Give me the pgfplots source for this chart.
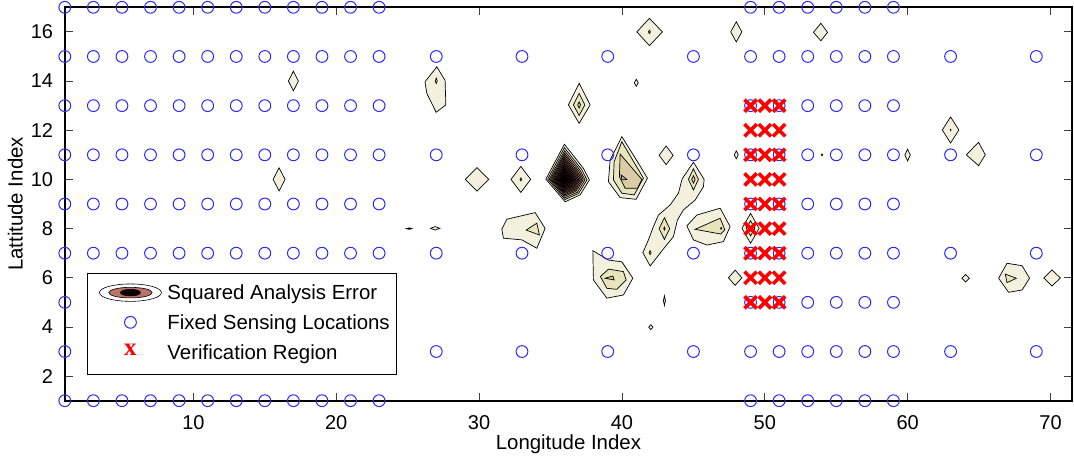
\documentclass[border=0pt]{standalone}
\usepackage{pgfplots}
\pgfplotsset{compat=1.18}
\usepackage{fontspec}
\setmainfont{Liberation Sans}
\newfontfamily\serifb{Liberation Serif}
\definecolor{c1}{RGB}{242,241,221}
\definecolor{c2}{RGB}{231,229,187}
\definecolor{c3}{RGB}{219,203,166}
\definecolor{c4}{RGB}{208,182,158}
\definecolor{p4}{RGB}{200,168,150}
\definecolor{p5}{RGB}{182,132,122}
\definecolor{p6}{RGB}{160,106,100}
\definecolor{p7}{RGB}{136,86,82}
\definecolor{p8}{RGB}{112,67,64}
\definecolor{p9}{RGB}{92,52,50}
\definecolor{p10}{RGB}{72,38,36}
\definecolor{p11}{RGB}{54,26,24}
\definecolor{p12}{RGB}{38,16,14}
\definecolor{p13}{RGB}{25,8,7}
\definecolor{p14}{RGB}{12,2,2}
\definecolor{legrose}{RGB}{185,115,105}
\definecolor{circblue}{RGB}{40,40,255}
\begin{document}
\begin{tikzpicture}[x=1pt,y=1pt]
\useasboundingbox (0,0) rectangle (1074,458);
\begin{axis}[
  at={(64.8pt,57.3pt)}, anchor=south west,
  scale only axis, width=1007.2pt, height=393.4pt,
  xmin=1, xmax=71.5, ymin=1, ymax=17,
  clip=false,
  xtick={10,20,30,40,50,60,70}, ytick={2,4,6,8,10,12,14,16},
  tick align=inside, major tick length=8pt,
  xtick pos=both, ytick pos=both, xticklabel pos=lower, yticklabel pos=left,
  axis line style={line width=1.6pt},
  tick style={line width=0.8pt, black!75},
  /pgf/number format/assume math mode=true,
  tick label style={font=\fontsize{20}{24}\selectfont},
  xticklabel style={anchor=base, inner sep=0pt, yshift=-28.8pt},
  yticklabel style={anchor=east, inner sep=0pt, xshift=-11.5pt},
  xlabel={Longitude Index}, ylabel={Lattitude Index},
  label style={font=\fontsize{20.4}{24}\selectfont},
  xlabel style={at={(axis description cs:0.5,-0.1243)}, anchor=base, inner sep=0pt},
  ylabel style={at={(axis description cs:-0.0415,0.5)}, anchor=south, inner sep=0pt},
  legend style={at={(axis description cs:0.02174,0.3254)}, anchor=north west,
    draw=black, line width=0.9pt, fill=white,
    inner xsep=6.4pt, inner ysep=10.5pt, row sep=10.4pt, column sep=5.7pt,
    font=\fontsize{20.4}{24}\selectfont,
    nodes={inner sep=0pt, text height=15pt, text depth=4.3pt},
    cells={anchor=west}},
  cont/.style={draw=black, line width=0.7pt, mark=none, forget plot},
]
% ---------------- contours ----------------
\addplot[cont, fill=c1] coordinates {(16.65,14)(17,14.4)(17.35,14)(17,13.6)} -- cycle;
\addplot[cont, fill=c1] coordinates {(15.58,10)(16,10.47)(16.42,10)(16,9.53)} -- cycle;
\addplot[cont, fill=c1] coordinates {(26.21,13.97)(27.04,14.58)(27.62,14.02)(27.67,13.03)(26.99,12.73)(26.34,13.50)} -- cycle;
\addplot[cont, fill=c2] coordinates {(26.93,14.0)(27.0,14.12)(27.07,14.0)(27.0,13.9)} -- cycle;
\addplot[cont, fill=c1] coordinates {(29.03,10)(29.85,10.48)(30.67,10)(29.85,9.52)} -- cycle;
\addplot[cont, fill=c1] coordinates {(32.23,10)(32.92,10.53)(33.61,10)(32.92,9.47)} -- cycle;
\addplot[cont, fill=c2] coordinates {(32.86,10)(32.92,10.06)(32.98,10)(32.92,9.94)} -- cycle;
% big peak
\addplot[cont, fill=c1] coordinates {(34.67,10.01)(35.97,11.43)(37.30,10.45)(37.72,9.98)(37.07,9.37)(36.02,9.09)} -- cycle;
\addplot[cont, fill=c2] coordinates {(34.80,10.01)(35.97,11.29)(37.17,10.41)(37.55,9.98)(36.96,9.43)(36.02,9.18)} -- cycle;
\addplot[cont, fill=c3] coordinates {(34.91,10.01)(35.98,11.17)(37.07,10.37)(37.41,9.98)(36.88,9.48)(36.02,9.25)} -- cycle;
\addplot[cont, fill=p4] coordinates {(35.00,10.01)(35.98,11.07)(36.98,10.34)(37.29,9.99)(36.80,9.53)(36.02,9.32)} -- cycle;
\addplot[cont, fill=p5] coordinates {(35.08,10.01)(35.98,10.99)(36.90,10.31)(37.19,9.99)(36.74,9.57)(36.01,9.37)} -- cycle;
\addplot[cont, fill=p6] coordinates {(35.16,10.01)(35.98,10.90)(36.82,10.28)(37.08,9.99)(36.67,9.60)(36.01,9.43)} -- cycle;
\addplot[cont, fill=p7] coordinates {(35.24,10.01)(35.98,10.82)(36.74,10.26)(36.98,9.99)(36.61,9.64)(36.01,9.48)} -- cycle;
\addplot[cont, fill=p8] coordinates {(35.32,10.0)(35.99,10.73)(36.66,10.23)(36.88,9.99)(36.55,9.68)(36.01,9.54)} -- cycle;
\addplot[cont, fill=p9] coordinates {(35.40,10.0)(35.99,10.64)(36.59,10.20)(36.77,9.99)(36.48,9.72)(36.01,9.59)} -- cycle;
\addplot[cont, fill=p10] coordinates {(35.48,10.0)(35.99,10.56)(36.51,10.18)(36.67,9.99)(36.42,9.75)(36.01,9.65)} -- cycle;
\addplot[cont, fill=p11] coordinates {(35.56,10.0)(35.99,10.47)(36.43,10.15)(36.57,9.99)(36.35,9.79)(36.01,9.70)} -- cycle;
\addplot[cont, fill=p12] coordinates {(35.64,10.0)(35.99,10.39)(36.35,10.12)(36.46,9.99)(36.29,9.83)(36.01,9.75)} -- cycle;
\addplot[cont, fill=p13] coordinates {(35.73,10.0)(35.99,10.29)(36.26,10.09)(36.34,10.0)(36.21,9.87)(36.0,9.82)} -- cycle;
\addplot[cont, fill=p14] coordinates {(35.83,10.0)(36.0,10.17)(36.16,10.05)(36.21,10.0)(36.13,9.92)(36.0,9.89)} -- cycle;
% peak at 40,10
\addplot[cont, fill=c1] coordinates {(39.99,11.74)(41.15,10.66)(41.78,10.05)(40.99,9.19)(39.87,9.26)(39.05,9.91)(39.17,10.79)} -- cycle;
\addplot[cont, fill=c2] coordinates {(39.99,11.53)(41.50,10.05)(40.85,9.37)(39.99,9.44)(39.40,9.98)(39.45,10.72)} -- cycle;
\addplot[cont, fill=c3] coordinates {(39.87,11.03)(41.39,10.0)(41.08,9.64)(40.22,9.64)(39.82,10.11)} -- cycle;
\addplot[cont, fill=c4] coordinates {(39.94,10.18)(40.34,10.0)(39.99,9.98)} -- cycle;
% 37,13
\addplot[cont, fill=c1] coordinates {(36.25,13.03)(37.0,13.91)(37.77,13.03)(37.0,12.28)} -- cycle;
\addplot[cont, fill=c2] coordinates {(36.6,13.03)(37.0,13.5)(37.4,13.03)(37.0,12.6)} -- cycle;
\addplot[cont, fill=c3] coordinates {(36.9,13.03)(37.0,13.15)(37.1,13.03)(37.0,12.9)} -- cycle;
% small ones top
\addplot[cont, fill=c1] coordinates {(40.86,13.93)(41,14.07)(41.14,13.93)(41,13.79)} -- cycle;
\addplot[cont, fill=c1] coordinates {(41.04,16.0)(41.92,16.55)(42.83,16.0)(41.92,15.44)} -- cycle;
\addplot[cont, fill=c2] coordinates {(41.85,16)(41.92,16.07)(41.99,16)(41.92,15.93)} -- cycle;
\addplot[cont, fill=c1] coordinates {(47.61,16)(48,16.41)(48.39,16)(48,15.59)} -- cycle;
\addplot[cont, fill=c1] coordinates {(53.40,15.98)(53.92,16.35)(54.39,15.98)(53.92,15.64)} -- cycle;
\addplot[cont, fill=c1] coordinates {(42.6,10.98)(43.09,11.36)(43.58,10.98)(43.09,10.6)} -- cycle;
\addplot[cont, fill=c1] coordinates {(47.86,11)(48,11.16)(48.14,11)(48,10.84)} -- cycle;
\addplot[cont, fill=c1] coordinates {(53.95,11)(54,11.04)(54.05,11)(54,10.96)} -- cycle;
% strand 41-46, 6.5-10.7
\addplot[cont, fill=c1] coordinates {(45.0,10.7)(45.75,10.0)(45.7,9.7)(45.12,9.16)(44.3,8.76)(43.88,8.35)(43.6,7.67)(43.02,7.26)(41.97,6.48)(41.46,7.02)(41.85,7.54)(42.2,8.08)(42.55,8.55)(43.37,8.96)(43.95,9.44)(44.19,9.98)(44.3,10.1)} -- cycle;
\addplot[cont, fill=c2] coordinates {(44.65,10)(45,10.43)(45.35,10)(45,9.57)} -- cycle;
\addplot[cont, fill=c3] coordinates {(44.88,10)(45,10.15)(45.12,10)(45,9.85)} -- cycle;
\addplot[cont, fill=c2] coordinates {(42.6,8.0)(42.97,8.44)(43.34,8.0)(42.97,7.56)} -- cycle;
\addplot[cont, fill=c3] coordinates {(42.92,8)(42.97,8.06)(43.02,8)(42.97,7.94)} -- cycle;
\addplot[cont, fill=c2] coordinates {(41.9,7.02)(41.97,7.1)(42.04,7.02)(41.97,6.94)} -- cycle;
% 46-47, 8
\addplot[cont, fill=c1] coordinates {(44.54,8.11)(45.24,8.55)(46.87,8.83)(47.57,8.08)(47.1,7.47)(45.94,7.33)(45.0,7.54)} -- cycle;
\addplot[cont, fill=c2] coordinates {(45.12,7.97)(46.87,8.42)(47.2,7.95)(46.9,7.78)} -- cycle;
\addplot[cont, fill=c3] coordinates {(46.9,8.01)(46.94,8.05)(46.98,8.01)(46.94,7.97)} -- cycle;
% 49,8
\addplot[cont, fill=c1] coordinates {(48.4,8.01)(49,8.62)(49.6,8.01)(49,7.4)} -- cycle;
\addplot[cont, fill=c2] coordinates {(48.7,8.01)(49,8.32)(49.3,8.01)(49,7.7)} -- cycle;
% 48,6 / 43,5 / 42,4
\addplot[cont, fill=c1] coordinates {(47.45,6)(47.92,6.31)(48.39,6)(47.92,5.69)} -- cycle;
\addplot[cont, fill=c1] coordinates {(42.90,5.07)(42.97,5.27)(43.04,5.07)(42.97,4.87)} -- cycle;
\addplot[cont, fill=c1] coordinates {(41.87,3.99)(42.02,4.09)(42.17,3.99)(42.02,3.89)} -- cycle;
% 39,6
\addplot[cont, fill=c1] coordinates {(37.96,7.1)(39.06,6.72)(39.99,6.65)(40.76,5.98)(40.1,5.30)(38.94,5.17)(38.0,5.91)} -- cycle;
\addplot[cont, fill=c2] coordinates {(38.49,6.05)(39.06,6.35)(40.1,6.25)(40.29,5.91)(39.64,5.53)(38.94,5.57)} -- cycle;
\addplot[cont, fill=c3] coordinates {(38.82,5.98)(39.36,6.07)(39.45,5.91)} -- cycle;
% 33-34, 8
\addplot[cont, fill=c1] coordinates {(31.59,7.98)(31.94,8.38)(33.92,8.65)(34.62,8.01)(34.04,7.2)(33.0,7.54)(31.7,7.61)} -- cycle;
\addplot[cont, fill=c2] coordinates {(33.29,7.94)(34.04,8.22)(34.22,7.74)} -- cycle;
% 25,8 and 27,8
\addplot[cont, fill=black] coordinates {(24.9,8)(25.1,8.03)(25.3,8)(25.1,7.97)} -- cycle;
\addplot[cont, fill=c1] coordinates {(26.6,8.01)(26.92,8.08)(27.25,8.01)(26.92,7.94)} -- cycle;
% right side
\addplot[cont, fill=c1] coordinates {(59.8,10.99)(59.99,11.23)(60.18,10.99)(59.99,10.75)} -- cycle;
\addplot[cont, fill=c1] coordinates {(62.42,12.01)(63.0,12.54)(63.58,12.01)(63.0,11.48)} -- cycle;
\addplot[cont, fill=c2] coordinates {(62.97,12.01)(63.0,12.04)(63.03,12.01)(63.0,11.98)} -- cycle;
\addplot[cont, fill=c1] coordinates {(64.1,11.0)(64.96,11.51)(65.43,11.0)(64.96,10.56)} -- cycle;
\addplot[cont, fill=c1] coordinates {(63.79,5.98)(64.05,6.13)(64.31,5.98)(64.05,5.83)} -- cycle;
\addplot[cont, fill=c1] coordinates {(66.36,5.98)(66.95,6.59)(68.0,6.49)(68.53,5.98)(68.0,5.5)(67.06,5.41)} -- cycle;
\addplot[cont, fill=c2] coordinates {(66.83,6.15)(67.6,5.98)(66.95,5.8)} -- cycle;
\addplot[cont, fill=c1] coordinates {(69.52,5.99)(70.1,6.32)(70.68,5.99)(70.1,5.66)} -- cycle;
% ---------------- fixed sensing locations ----------------
\addplot[only marks, mark=o, mark size=5.9pt, color=circblue, mark options={line width=1pt}, forget plot] coordinates {
(1,1)(3,1)(5,1)(7,1)(9,1)(11,1)(13,1)(15,1)(17,1)(19,1)(21,1)(23,1)(49,1)(51,1)(53,1)(55,1)(57,1)(59,1)
(1,3)(3,3)(5,3)(7,3)(9,3)(11,3)(13,3)(15,3)(17,3)(19,3)(21,3)(23,3)(27,3)(33,3)(39,3)(45,3)(49,3)(51,3)(53,3)(55,3)(57,3)(59,3)(63,3)(69,3)
(1,5)(3,5)(5,5)(7,5)(9,5)(11,5)(13,5)(15,5)(17,5)(19,5)(21,5)(23,5)(49,5)(51,5)(53,5)(55,5)(57,5)(59,5)
(1,7)(3,7)(5,7)(7,7)(9,7)(11,7)(13,7)(15,7)(17,7)(19,7)(21,7)(23,7)(27,7)(33,7)(39,7)(45,7)(49,7)(51,7)(53,7)(55,7)(57,7)(59,7)(63,7)(69,7)
(1,9)(3,9)(5,9)(7,9)(9,9)(11,9)(13,9)(15,9)(17,9)(19,9)(21,9)(23,9)(49,9)(51,9)(53,9)(55,9)(57,9)(59,9)
(1,11)(3,11)(5,11)(7,11)(9,11)(11,11)(13,11)(15,11)(17,11)(19,11)(21,11)(23,11)(27,11)(33,11)(39,11)(45,11)(49,11)(51,11)(53,11)(55,11)(57,11)(59,11)(63,11)(69,11)
(1,13)(3,13)(5,13)(7,13)(9,13)(11,13)(13,13)(15,13)(17,13)(19,13)(21,13)(23,13)(49,13)(51,13)(53,13)(55,13)(57,13)(59,13)
(1,15)(3,15)(5,15)(7,15)(9,15)(11,15)(13,15)(15,15)(17,15)(19,15)(21,15)(23,15)(27,15)(33,15)(39,15)(45,15)(49,15)(51,15)(53,15)(55,15)(57,15)(59,15)(63,15)(69,15)
(1,17)(3,17)(5,17)(7,17)(9,17)(11,17)(13,17)(15,17)(17,17)(19,17)(21,17)(23,17)(49,17)(51,17)(53,17)(55,17)(57,17)(59,17)
};
% ---------------- verification region ----------------
\addplot[only marks, mark=x, mark size=8.6pt, color=red, mark options={line width=3.6pt}, forget plot] coordinates {
(49,5)(50,5)(51,5)(49,6)(50,6)(51,6)(49,7)(50,7)(51,7)(49,8)(50,8)(51,8)(49,9)(50,9)(51,9)
(49,10)(50,10)(51,10)(49,11)(50,11)(51,11)(49,12)(50,12)(51,12)(49,13)(50,13)(51,13)
};
% ---------------- legend ----------------
\addlegendimage{legend image code/.code={
  \path[draw=none, fill=none] (-5.9pt,-9pt) rectangle (62pt,9pt);
  \draw[black, line width=0.6pt, fill=white] (31pt,2pt) ellipse [x radius=31pt, y radius=8.7pt];
  \draw[black, line width=0.6pt, fill=legrose] (31pt,2pt) ellipse [x radius=21.7pt, y radius=5.3pt];
  \draw[black, line width=0.6pt, fill=p14] (31pt,2pt) ellipse [x radius=10pt, y radius=3.3pt];
}}
\addlegendentry{Squared Analysis Error}
\addlegendimage{legend image code/.code={
  \path[draw=none, fill=none] (-5.9pt,-9pt) rectangle (62pt,9pt);
  \draw[circblue, line width=1pt, fill=none] (31pt,2pt) circle [radius=5.9pt];
}}
\addlegendentry{Fixed Sensing Locations}
\addlegendimage{legend image code/.code={
  \path[draw=none, fill=none] (-5.9pt,-9pt) rectangle (62pt,9pt);
  \node[draw=none, fill=none, anchor=center, inner sep=0pt, text height=11pt, text depth=0pt, text=red, font={\fontsize{25}{28}\serifb\bfseries}] at (31pt,4.5pt) {x};
}}
\addlegendentry{Verification Region}
\end{axis}
\end{tikzpicture}
\end{document}
